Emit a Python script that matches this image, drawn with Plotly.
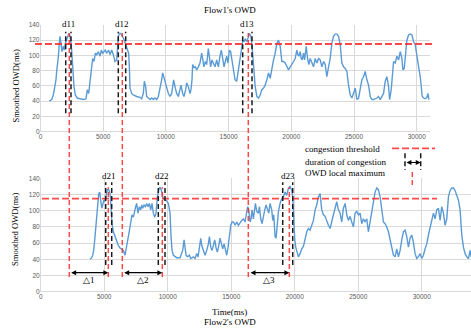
import plotly.graph_objects as go

# ---------------- data ----------------
flow1_t = [704, 890, 1023, 1103, 1156, 1236, 1289, 1342, 1422, 1502, 1555, 1635, 1714, 1821, 1900, 1980,
           2087, 2219, 2299, 2405, 2485, 2565, 2671, 2778, 2937, 3150, 3416, 3628, 3735, 3841, 3947, 4054,
           4160, 4266, 4373, 4479, 4612, 4745, 4851, 4957, 5064, 5170, 5276, 5436, 5542, 5675, 5808, 5941,
           6074, 6207, 6286, 6393, 6499, 6605, 6712, 6818, 6924, 7031, 7084, 7137, 7270, 7403, 7669, 7934,
           8067, 8200, 8280, 8386, 8466, 8599, 8732, 8865, 8998, 9131, 9264, 9397, 9530, 9662, 9742, 9848,
           9955, 10061, 10194, 10327, 10460, 10539, 10619, 10726, 10858, 10991, 11124, 11204, 11337, 11443,
           11576, 11656, 11789, 11922, 12001, 12081, 12134, 12240, 12347, 12453, 12586, 12719, 12852, 12932,
           13038, 13144, 13250, 13383, 13463, 13569, 13676, 13782, 13915, 14048, 14181, 14314, 14420, 14527,
           14633, 14739, 14846, 14952, 15058, 15164, 15271, 15377, 15510, 15643, 15776, 15909, 16030, 16136,
           16243, 16322, 16455, 16588, 16668, 16774, 16854, 16934, 17040, 17120, 17253, 17386, 17519, 17652,
           17785, 17918, 18051, 18183, 18316, 18449, 18582, 18715, 18848, 18981, 19114, 19247, 19380, 19513,
           19646, 19779, 19912, 20045, 20178, 20311, 20444, 20524, 20603, 20710, 20789, 20869, 20975, 21055,
           21188, 21294, 21401, 21507, 21587, 21667, 21773, 21906, 22039, 22172, 22305, 22438, 22571, 22704,
           22837, 22970, 23102, 23235, 23368, 23501, 23634, 23767, 23900, 24033, 24166, 24299, 24432, 24565,
           24698, 24831, 24964, 25097, 25177, 25230, 25363, 25496, 25629, 25762, 25895, 26027, 26160, 26240,
           26293, 26426, 26559, 26825, 26958, 27091, 27224, 27357, 27490, 27623, 27756, 27836, 27969, 28075,
           28155, 28288, 28421, 28554, 28687, 28820, 28899, 29006, 29112, 29219, 29352, 29485, 29618, 29751,
           29884, 30017, 30150, 30283, 30363, 30442, 30549, 30682, 30815, 30895, 30974]
flow1_owd = [40, 42, 48, 55, 57, 68, 79, 85, 98, 116, 125, 116, 105, 112, 107, 116,
             122, 127, 129, 120, 107, 85, 59, 48, 44, 43, 42, 43, 55, 50, 68, 85,
             96, 92, 103, 101, 105, 99, 107, 103, 105, 107, 103, 107, 101, 107, 101, 92,
             94, 125, 129, 129, 126, 123, 118, 112, 107, 103, 85, 57, 50, 48, 46, 45,
             43, 50, 66, 59, 46, 44, 42, 44, 42, 44, 42, 46, 55, 68, 77, 70,
             64, 57, 50, 46, 50, 59, 68, 59, 50, 46, 55, 61, 50, 46,
             55, 64, 59, 50, 55, 68, 88, 84, 85, 81, 85, 90, 103, 94,
             85, 92, 88, 109, 96, 85, 94, 90, 85, 94, 85, 99, 107, 96,
             85, 92, 99, 90, 107, 105, 94, 84, 68, 66, 81, 90, 110, 120,
             118, 122, 118, 127, 129, 125, 116, 99, 77, 59, 46, 44, 48, 55,
             57, 61, 68, 77, 70, 83, 94, 103, 116, 120, 112, 92, 92, 90,
             85, 81, 85, 88, 92, 96, 107, 101, 99, 105, 96, 94, 103, 94,
             112, 96, 88, 96, 92, 88, 85, 96, 90, 96, 94, 85, 92, 88,
             72, 85, 96, 116, 125, 128, 128, 125, 114, 90, 85, 83, 79, 61,
             48, 44, 50, 57, 48, 42, 44, 59, 68, 72, 79, 68, 61, 52,
             46, 42, 42, 44, 46, 42, 46, 50, 66, 72, 59, 42, 55, 79,
             92, 90, 99, 94, 105, 96, 81, 83, 101, 120, 127, 128, 127, 118,
             114, 96, 85, 72, 59, 46, 44, 43, 45, 50, 42]

flow2_t = [3882, 4013, 4095, 4174, 4253, 4331, 4410, 4489, 4568, 4646, 4725, 4804, 4883, 4961, 5040, 5145,
           5250, 5355, 5460, 5536, 5615, 5720, 5851, 5983, 6114, 6245, 6376, 6507, 6638, 6717, 6796, 6901,
           7032, 7110, 7189, 7294, 7373, 7478, 7557, 7662, 7767, 7872, 7951, 8030, 8135, 8240, 8345, 8450,
           8555, 8660, 8765, 8870, 8975, 9080, 9185, 9290, 9396, 9501, 9606, 9711, 9816, 9921, 10053, 10184,
           10263, 10341, 10446, 10578, 10709, 10972, 11182, 11287, 11366, 11445, 11550, 11707, 11812, 12022,
           12153, 12284, 12390, 12495, 12600, 12679, 12810, 12941, 13072, 13204, 13283, 13388, 13493, 13598,
           13703, 13808, 13913, 14018, 14123, 14228, 14333, 14438, 14543, 14648, 14753, 14858, 14963, 15068,
           15173, 15304, 15435, 15566, 15698, 15829, 15960, 16091, 16222, 16301, 16380, 16485, 16564, 16642,
           16747, 16826, 16905, 17010, 17142, 17220, 17325, 17430, 17535, 17640, 17745, 17850, 17955, 18060,
           18191, 18270, 18349, 18454, 18533, 18612, 18717, 18848, 18979, 19110, 19241, 19373, 19504, 19635,
           19766, 19845, 19924, 20003, 20081, 20160, 20291, 20423, 20554, 20685, 20816, 20948, 21079, 21210,
           21341, 21473, 21604, 21735, 21866, 21998, 22129, 22260, 22391, 22523, 22654, 22785, 22916, 23047,
           23178, 23310, 23441, 23572, 23703, 23835, 23966, 24097, 24228, 24360, 24491, 24622, 24753, 24885,
           25016, 25147, 25278, 25410, 25541, 25672, 25803, 25935, 26066, 26197, 26328, 26460, 26591, 26722,
           26853, 26985, 27116, 27247, 27378, 27510, 27641, 27772, 27903, 28034, 28166, 28297, 28428, 28559,
           28691, 28822, 28953, 29084, 29215, 29347, 29478, 29609, 29740, 29872, 30003, 30134, 30266, 30397,
           30528, 30659, 30791, 30922, 31053, 31184, 31316, 31447, 31578, 31709, 31841, 31972, 32103, 32234,
           32366, 32497, 32628, 32759, 32891, 33022, 33153, 33284, 33416, 33547, 33678, 33809, 33888]
flow2_owd = [40, 42, 45, 51, 64, 80, 92, 101, 121, 123, 111, 103, 107, 113, 111, 119,
             126, 126, 121, 105, 84, 74, 68, 61, 57, 54, 53, 51, 45, 51, 59, 68,
             80, 90, 95, 92, 99, 105, 109, 97, 105, 101, 107, 103, 107, 105, 109, 105,
             109, 101, 109, 97, 92, 97, 117, 126, 129, 125, 117, 114, 113, 112, 109, 97,
             68, 51, 45, 43, 42, 42, 51, 64, 55, 45, 43, 45, 41, 43,
             41, 47, 43, 53, 66, 57, 51, 45, 51, 59, 68, 55, 51, 57,
             64, 54, 49, 57, 66, 59, 53, 59, 53, 45, 55, 72, 82, 86,
             86, 82, 86, 82, 86, 88, 90, 86, 99, 105, 101, 86, 90, 101,
             90, 97, 109, 99, 97, 105, 90, 84, 95, 101, 107, 103, 97, 109,
             101, 88, 95, 68, 66, 80, 99, 109, 115, 117, 123, 119, 128, 130,
             125, 117, 80, 64, 55, 49, 43, 47, 53, 56, 64, 74, 78, 76,
             82, 88, 101, 107, 117, 121, 101, 95, 93, 86, 82, 78, 88, 95,
             103, 111, 101, 97, 86, 103, 109, 95, 88, 93, 86, 80, 97, 99,
             95, 97, 84, 90, 86, 90, 74, 86, 101, 109, 123, 128, 126, 117,
             99, 86, 84, 80, 74, 64, 51, 45, 43, 53, 43, 51, 64, 74,
             76, 68, 55, 66, 70, 61, 47, 41, 43, 47, 41, 45, 53, 59,
             70, 78, 88, 97, 90, 101, 103, 88, 105, 97, 82, 90, 117, 125,
             128, 128, 125, 119, 113, 101, 70, 55, 47, 43, 41, 51, 43]

x_ticks = [0, 5000, 10000, 15000, 20000, 25000, 30000]
x_ticktext = ["0", "5000", "10000", "15000", "20000", "25000", "30000"]
y_ticks = [0, 20, 40, 60, 80, 100, 120, 140]

threshold = 115
# local maxima (time) and congestion durations (start, end)
flow1_peaks = [2297, 6523, 16571]
flow1_dur = [(2010, 2432), (6204, 6794), (16124, 16866)]
flow1_labels = ["d11", "d12", "d13"]
flow2_peaks = [5323, 9575, 19575]
flow2_dur = [(5118, 5591), (9260, 9787), (19055, 19843)]
flow2_labels = ["d21", "d22", "d23"]
delta_start = [2280, 6457, 16402]  # flow1 peaks on flow2's axis
delta_labels = ["△1", "△2", "△3"]

# ---------------- layout helpers ----------------
W, H = 471, 332
def px(x):
    return x / W
def py(y):
    return 1 - y / H

BLUE = "#5b9bd5"
RED = "rgba(255,40,40,0.85)"
BLK = "#1a1a1a"
SERIF = "Liberation Serif"
TXT = "#000000"

fig = go.Figure()
fig.add_trace(go.Scatter(x=flow1_t, y=flow1_owd, mode="lines", line=dict(color=BLUE, width=1.4),
                         xaxis="x", yaxis="y", showlegend=False))
fig.add_trace(go.Scatter(x=flow2_t, y=flow2_owd, mode="lines", line=dict(color=BLUE, width=1.4),
                         xaxis="x2", yaxis="y2", showlegend=False))

tickfont = dict(family="Liberation Sans", size=6.5, color="#595959")
axis_common = dict(showgrid=True, gridcolor="#d9d9d9", gridwidth=1, zeroline=True,
                   zerolinecolor="#d9d9d9", zerolinewidth=1, showline=False, ticks="",
                   tickfont=tickfont, automargin=False, fixedrange=True)

shapes = []
annotations = []

def vline(x, y0, y1, xref, yref, color, width=1.5, dash="5px,3px"):
    shapes.append(dict(type="line", x0=x, x1=x, y0=y0, y1=y1, xref=xref, yref=yref,
                       line=dict(color=color, width=width, dash=dash)))

def hline(y, x0, x1, xref, yref, color, width=1.8, dash="7px,3px"):
    shapes.append(dict(type="line", x0=x0, x1=x1, y0=y, y1=y, xref=xref, yref=yref,
                       line=dict(color=color, width=width, dash=dash)))

def text(s, x, y, xref="paper", yref="paper", xanchor="center", size=9, angle=0):
    annotations.append(dict(text=s, x=x, y=y, xref=xref, yref=yref, showarrow=False,
                            xanchor=xanchor, yanchor="middle", textangle=angle,
                            font=dict(family=SERIF, size=size, color=TXT)))

def darrow(x0, x1, y, xref, yref):
    annotations.append(dict(text="", x=x1, y=y, ax=x0, ay=y, xref=xref, yref=yref,
                            axref=xref, ayref=yref, showarrow=True, arrowhead=2,
                            arrowside="end+start", arrowsize=0.9, arrowwidth=1.1,
                            arrowcolor="#000000"))

def darrow_px(x_end, y, length_px):
    annotations.append(dict(text="", x=x_end, y=y, ax=-length_px, ay=0, xref="paper", yref="paper",
                            axref="pixel", ayref="pixel", showarrow=True, arrowhead=2,
                            arrowside="end+start", arrowsize=0.9, arrowwidth=1.1,
                            arrowcolor="#000000"))

# thresholds
hline(threshold, px(35), px(433), "paper", "y", RED)
hline(threshold, px(42), px(437), "paper", "y2", RED)

# top chart markers
for (a, b), pk, lab in zip(flow1_dur, flow1_peaks, flow1_labels):
    vline(a, 24, 131, "x", "y", BLK)
    vline(b, 24, 131, "x", "y", BLK)
    vline(pk, py(277), py(33), "x", "paper", RED)
    text(lab, (a + b) / 2, py(24), xref="x")

# bottom chart markers
for (a, b), pk, lab, ds, dl in zip(flow2_dur, flow2_peaks, flow2_labels, delta_start, delta_labels):
    vline(a, 33, 135, "x2", "y2", BLK)
    vline(b, 33, 135, "x2", "y2", BLK)
    vline(pk, 18, 129, "x2", "y2", RED)
    text(lab, (a + b) / 2, py(175.5), xref="x2")
    darrow(ds, pk, 23.5, "x2", "y2")
    text(dl, (ds + pk) / 2, 14.4, xref="x2", yref="y2")

# legend
hline(py(148.3), px(392), px(435), "paper", "paper", RED)
vline(px(405), py(153.3), py(170), "paper", "paper", BLK)
vline(px(420.7), py(153.3), py(170), "paper", "paper", BLK)
darrow_px(px(420.7), py(162.5), 15.7)
vline(px(412.3), py(172), py(185), "paper", "paper", RED)
text("congestion threshold", px(303), py(149), xanchor="left")
text("duration of congestion", px(303), py(162.3), xanchor="left")
text("OWD local maximum", px(303), py(172.7), xanchor="left")

# titles
text("Flow1's OWD", px(230.3), py(9.5))
text("Time(ms)", px(229.5), py(311.7))
text("Flow2's OWD", px(230), py(322))
text("Smoothed OWD(ms)", px(15), py(86.5), angle=-90, size=8.6)
text("Smoothed OWD(ms)", px(15), py(230), angle=-90, size=8.6)

fig.update_layout(
    width=W, height=H, margin=dict(l=0, r=0, t=0, b=0),
    paper_bgcolor="white", plot_bgcolor="white",
    xaxis=dict(domain=[px(40.5), px(430)], range=[0, 31060], tickvals=x_ticks, ticktext=x_ticktext,
               anchor="y", **axis_common),
    yaxis=dict(domain=[py(131.5), py(25)], range=[0, 140], tickvals=y_ticks, anchor="x", **axis_common),
    xaxis2=dict(domain=[px(40.7), 1.0], range=[0, 33880], tickvals=x_ticks, ticktext=x_ticktext,
                anchor="y2", **axis_common),
    yaxis2=dict(domain=[py(291.7), py(178.3)], range=[0, 140], tickvals=y_ticks, anchor="x2", **axis_common),
    shapes=shapes, annotations=annotations, showlegend=False,
)

fig.write_html("out.html", config={"displayModeBar": False},
               post_script="document.body.style.margin='0';document.body.style.overflow='hidden';")
